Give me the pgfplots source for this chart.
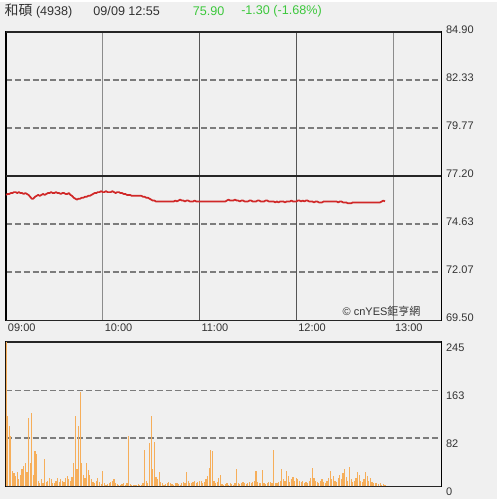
\documentclass[border=0pt]{standalone}
\usepackage{pgfplots}
\pgfplotsset{compat=1.18}
\usepackage{fontspec}
\setmainfont{Liberation Sans}
\newfontfamily\cjk{Noto Sans CJK TC}
\definecolor{bg}{HTML}{F0F0F0}
\definecolor{gridc}{HTML}{7C7C7C}
\definecolor{vgrid}{HTML}{8C8C8C}
\definecolor{vgriddark}{HTML}{555555}
\definecolor{priceline}{HTML}{D02828}
\definecolor{volbar}{HTML}{F6AE5A}
\definecolor{upgreen}{HTML}{3CC83C}
\definecolor{txt}{HTML}{333333}

\begin{document}
\begin{tikzpicture}
\fill[bg] (0,0) rectangle (375pt,375pt);

% header
\node[anchor=west, text=txt, font=\fontsize{9.5}{11}\selectfont] at (0pt,368pt) {{\cjk\fontsize{10.5}{11}\selectfont 和碩} (4938)};
\node[anchor=west, text=txt, font=\fontsize{9.5}{11}\selectfont] at (67pt,368pt) {09/09 12:55};
\node[anchor=west, text=upgreen, font=\fontsize{9.5}{11}\selectfont] at (142pt,368pt) {75.90};
\node[anchor=west, text=upgreen, font=\fontsize{9.5}{11}\selectfont] at (178.5pt,368pt) {-1.30 (-1.68\%)};

\begin{axis}[
    scale only axis,
    width=328.5pt, height=217.5pt,
    at={(4.5pt,135pt)}, anchor=south west,
    xmin=0, xmax=270, ymin=69.5, ymax=84.9,
    axis line style={black, line width=1.1pt},
    xtick={0,60,240},
    xticklabels={09:00,10:00,13:00},
    extra x ticks={120,180},
    extra x tick labels={11:00,12:00},
    extra x tick style={major x grid style={vgriddark, line width=0.8pt}},
    x tick label style={anchor=north west, xshift=-2pt, yshift=1pt},
    ytick={72.07,74.63,79.77,82.33},
    yticklabels={72.07,74.63,79.77,82.33},
    extra y ticks={69.5,77.2,84.9},
    extra y tick labels={69.50,77.20,84.90},
    extra y tick style={major y grid style={solid, black!85, line width=1.1pt}},
    yticklabel pos=right,
    y tick label style={anchor=west, xshift=0pt, yshift=2pt},
    major tick length=0pt,
    tick label style={font=\fontsize{8.3}{10}\selectfont, text=txt},
    xmajorgrids, ymajorgrids,
    major x grid style={vgrid, line width=0.8pt},
    major y grid style={gridc, dash pattern=on 4.5pt off 2.2pt, line width=1.45pt},
]
\addplot[priceline, line width=1.3pt, line join=round] coordinates {
(0,76.20)(1,76.25)(2,76.25)(3,76.30)(4,76.30)(5,76.35)(6,76.35)(7,76.30)(8,76.35)(9,76.30)
(10,76.30)(11,76.25)(12,76.30)(13,76.25)(14,76.20)(15,76.10)(16,76.00)(17,76.00)(18,76.10)(19,76.15)
(20,76.20)(21,76.15)(22,76.20)(23,76.25)(24,76.20)(25,76.25)(26,76.30)(27,76.30)(28,76.35)(29,76.30)
(30,76.30)(31,76.35)(32,76.30)(33,76.30)(34,76.25)(35,76.30)(36,76.30)(37,76.25)(38,76.25)(39,76.30)
(40,76.20)(41,76.15)(42,76.05)(43,76.00)(44,75.95)(45,76.00)(46,76.00)(47,76.05)(48,76.05)(49,76.10)
(50,76.10)(51,76.15)(52,76.15)(53,76.20)(54,76.25)(55,76.30)(56,76.30)(57,76.35)(58,76.35)(59,76.40)
(60,76.35)(61,76.35)(62,76.40)(63,76.35)(64,76.35)(65,76.35)(66,76.40)(67,76.35)(68,76.30)(69,76.35)
(70,76.35)(71,76.30)(72,76.30)(73,76.25)(74,76.25)(75,76.20)(76,76.20)(77,76.20)(78,76.15)(79,76.15)
(80,76.15)(81,76.15)(82,76.15)(83,76.15)(84,76.15)(85,76.10)(86,76.10)(87,76.05)(88,76.05)(89,76.00)
(90,75.95)(91,75.90)(92,75.90)(93,75.85)(94,75.85)(95,75.85)(96,75.85)(97,75.85)(98,75.85)(99,75.85)
(100,75.85)(101,75.85)(102,75.85)(103,75.85)(104,75.85)(105,75.90)(106,75.85)(107,75.90)(108,75.95)(109,75.90)
(110,75.90)(111,75.85)(112,75.90)(113,75.90)(114,75.85)(115,75.85)(116,75.85)(117,75.90)(118,75.85)(119,75.85)
(120,75.85)(121,75.85)(122,75.85)(123,75.85)(124,75.85)(125,75.85)(126,75.85)(127,75.85)(128,75.85)(129,75.85)
(130,75.85)(131,75.85)(132,75.85)(133,75.85)(134,75.85)(135,75.85)(136,75.85)(137,75.90)(138,75.95)(139,75.90)
(140,75.90)(141,75.90)(142,75.95)(143,75.90)(144,75.90)(145,75.85)(146,75.90)(147,75.90)(148,75.85)(149,75.85)
(150,75.85)(151,75.90)(152,75.90)(153,75.85)(154,75.85)(155,75.85)(156,75.90)(157,75.90)(158,75.85)(159,75.85)
(160,75.85)(161,75.90)(162,75.90)(163,75.85)(164,75.85)(165,75.85)(166,75.85)(167,75.80)(168,75.85)(169,75.80)
(170,75.85)(171,75.85)(172,75.85)(173,75.80)(174,75.85)(175,75.85)(176,75.85)(177,75.90)(178,75.85)(179,75.85)
(180,75.85)(181,75.90)(182,75.90)(183,75.85)(184,75.90)(185,75.85)(186,75.90)(187,75.90)(188,75.85)(189,75.85)
(190,75.85)(191,75.80)(192,75.85)(193,75.85)(194,75.80)(195,75.80)(196,75.80)(197,75.85)(198,75.85)(199,75.85)
(200,75.85)(201,75.85)(202,75.85)(203,75.85)(204,75.85)(205,75.85)(206,75.80)(207,75.85)(208,75.85)(209,75.80)
(210,75.80)(211,75.80)(212,75.75)(213,75.75)(214,75.75)(215,75.80)(216,75.80)(217,75.80)(218,75.80)(219,75.80)
(220,75.80)(221,75.80)(222,75.80)(223,75.80)(224,75.80)(225,75.80)(226,75.80)(227,75.80)(228,75.80)(229,75.80)
(230,75.80)(231,75.80)(232,75.80)(233,75.85)(234,75.90)(235,75.85)
};
\node[anchor=south east, text=txt, font=\fontsize{8.3}{10}\selectfont, inner sep=1pt] at (axis cs:258,69.6) {© cnYES{\cjk 鉅亨網}};
\end{axis}

\begin{axis}[
    scale only axis,
    width=328.5pt, height=108.75pt,
    at={(4.5pt,9.75pt)}, anchor=south west,
    xmin=0, xmax=270, ymin=0, ymax=245,
    axis line style={black, line width=1.1pt},
    xtick=\empty,
    ytick={82,163},
    yticklabels={82,163},
    extra y ticks={0,245},
    extra y tick labels={0,245},
    extra y tick style={major y grid style={solid, black!85, line width=1.1pt}},
    yticklabel pos=right,
    y tick label style={anchor=west, yshift=-4pt},
    major tick length=0pt,
    tick label style={font=\fontsize{8.3}{10}\selectfont, text=txt},
    ymajorgrids,
    major y grid style={gridc, dash pattern=on 4.5pt off 2.2pt, line width=1.45pt},
]
\addplot[ycomb, volbar, line width=0.9pt] coordinates {
(0,245)(1,119)(2,103)(3,85)(4,26)(5,22)(6,18)(7,24)(8,12)(9,20)
(10,30)(11,34)(12,40)(13,25)(14,117)(15,40)(16,125)(17,20)(18,60)(19,55)
(20,10)(21,6)(22,12)(23,5)(24,46)(25,8)(26,10)(27,14)(28,12)(29,6)
(30,5)(31,10)(32,15)(33,8)(34,12)(35,10)(36,8)(37,14)(38,18)(39,12)
(40,10)(41,16)(42,40)(43,119)(44,30)(45,102)(46,161)(47,40)(48,20)(49,14)
(50,40)(51,28)(52,20)(53,12)(54,8)(55,6)(56,10)(57,14)(58,8)(59,4)
(60,26)(61,5)(62,3)(63,4)(64,6)(65,8)(66,10)(67,12)(68,6)(69,4)
(70,3)(71,2)(72,4)(73,5)(74,3)(75,6)(76,85)(77,4)(78,3)(79,2)
(80,3)(81,2)(82,4)(83,2)(84,3)(85,5)(86,62)(87,10)(88,6)(89,74)
(90,119)(91,30)(92,75)(93,16)(94,12)(95,25)(96,8)(97,5)(98,3)(99,4)
(100,6)(101,8)(102,5)(103,4)(104,3)(105,5)(106,6)(107,4)(108,3)(109,5)
(110,7)(111,6)(112,24)(113,10)(114,6)(115,5)(116,8)(117,10)(118,6)(119,8)
(120,10)(121,9)(122,6)(123,8)(124,12)(125,18)(126,32)(127,62)(128,60)(129,10)
(130,6)(131,8)(132,14)(133,20)(134,4)(135,3)(136,4)(137,5)(138,3)(139,6)
(140,4)(141,3)(142,5)(143,29)(144,6)(145,4)(146,5)(147,8)(148,6)(149,4)
(150,5)(151,7)(152,6)(153,8)(154,10)(155,26)(156,8)(157,6)(158,5)(159,27)
(160,6)(161,4)(162,5)(163,7)(164,8)(165,6)(166,62)(167,5)(168,6)(169,8)
(170,10)(171,30)(172,12)(173,10)(174,26)(175,18)(176,8)(177,12)(178,16)(179,10)
(180,14)(181,12)(182,10)(183,8)(184,10)(185,6)(186,8)(187,5)(188,10)(189,14)
(190,32)(191,15)(192,10)(193,8)(194,6)(195,10)(196,12)(197,8)(198,6)(199,10)
(200,14)(201,26)(202,12)(203,18)(204,10)(205,8)(206,14)(207,20)(208,12)(209,22)
(210,29)(211,16)(212,10)(213,33)(214,12)(215,8)(216,10)(217,14)(218,24)(219,20)
(220,10)(221,8)(222,12)(223,24)(224,18)(225,10)(226,14)(227,8)(228,6)(229,5)
(230,6)(231,4)(232,5)(233,3)(234,4)(235,3)
};
\end{axis}
\end{tikzpicture}
\end{document}
